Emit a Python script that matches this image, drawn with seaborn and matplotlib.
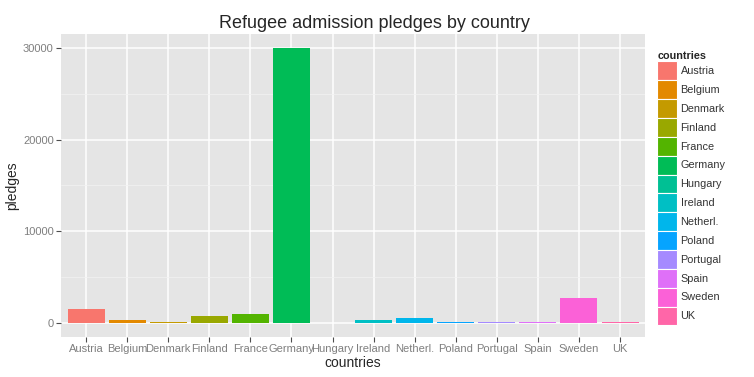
import matplotlib
matplotlib.use("Agg")
import matplotlib.pyplot as plt
import matplotlib.patches as mpatches
from matplotlib.ticker import MultipleLocator
import seaborn as sns
import pandas as pd

# --- dati ---
countries = ["Austria", "Belgium", "Denmark", "Finland", "France", "Germany", "Hungary",
             "Ireland", "Netherl.", "Poland", "Portugal", "Spain", "Sweden", "UK"]
pledges = [1500, 275, 140, 800, 1000, 30000, 30, 310, 500, 100, 100, 130, 2700, 90]
colori = ["#F8766D", "#E38900", "#C49A00", "#99A800", "#53B400", "#00BC56", "#00C094",
          "#00BFC4", "#00B6EB", "#06A4FF", "#A58AFF", "#DF70F8", "#FB61D7", "#FF66A8"]

df = pd.DataFrame({"countries": countries, "pledges": pledges})

sns.set_theme(style="darkgrid")
plt.rcParams["font.family"] = ["Liberation Sans", "DejaVu Sans"]

fig = plt.figure(figsize=(7.54, 3.77), dpi=100)
ax = fig.add_axes([0.0815, 0.107, 0.7735, 0.802])
ax.set_facecolor("#E5E5E5")

sns.barplot(data=df, x="countries", y="pledges", hue="countries", palette=colori,
            width=0.9, dodge=False, legend=False, ax=ax, saturation=1,
            linewidth=0, edgecolor="none")

ax.set_xlim(-0.6, len(countries) - 0.4)
ax.set_ylim(-1500, 31500)
ax.set_yticks([0, 10000, 20000, 30000])
ax.yaxis.set_minor_locator(MultipleLocator(5000))

ax.grid(which="major", color="white", linewidth=1.1)
ax.grid(which="minor", axis="y", color="#F2F2F2", linewidth=0.5)
ax.set_axisbelow(True)
for s in ax.spines.values():
    s.set_visible(False)

ax.tick_params(axis="both", which="major", length=3.5, width=0.8, color="#4D4D4D",
               labelsize=8, labelcolor="#7F7F7F", pad=2, bottom=True, left=True)
ax.tick_params(which="minor", length=0)

# titolo centrato sulla figura (come ggplot)
fig.text(0.497, 0.938, "Refugee admission pledges by country", fontsize=13,
         ha="center", va="center")
ax.set_xlabel("countries", fontsize=10, labelpad=1)
ax.set_ylabel("pledges", fontsize=10, labelpad=3)

# legenda stile ggplot
handles = [mpatches.Patch(facecolor=c, edgecolor="white", linewidth=0.8, label=n)
           for c, n in zip(colori, countries)]
leg = fig.legend(handles=handles, title="countries", loc="upper left",
                 bbox_to_anchor=(0.866, 0.875), frameon=False, fontsize=7.8,
                 title_fontsize=7.8, handlelength=1.85, handleheight=2.3,
                 handletextpad=0.3, labelspacing=0.0, borderaxespad=0)
leg.get_title().set_fontweight("bold")
leg._legend_box.align = "left"
for t in leg.get_texts():
    t.set_color("#333333")

fig.savefig("out.png", dpi=100)
plt.close()
